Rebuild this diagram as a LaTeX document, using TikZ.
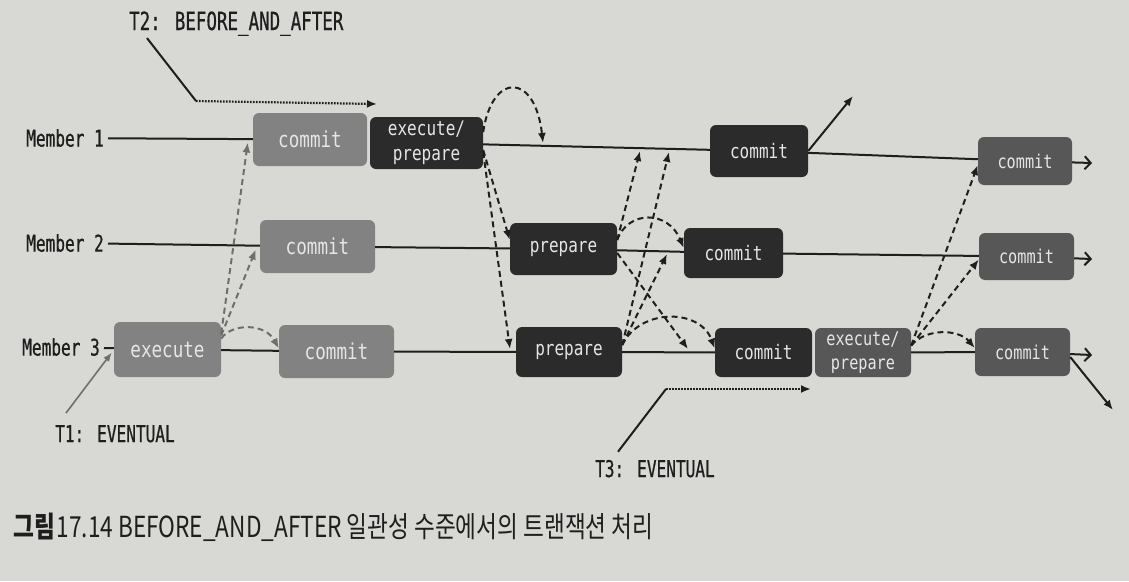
\documentclass[tikz,border=0pt]{standalone}
\usepackage{fontspec}
\usepackage{tikz}
\usetikzlibrary{positioning,arrows.meta}
\newfontfamily\lblfont[FakeStretch=0.8]{DejaVu Sans Mono}
\newfontfamily\tagfont[FakeStretch=0.7,FakeBold=0.6]{DejaVu Sans Mono}
\newfontfamily\capfont[FakeStretch=0.78]{Noto Sans CJK KR}
\definecolor{paper}{HTML}{D8D8D4}
\definecolor{boxlight}{HTML}{828282}
\definecolor{boxdark}{HTML}{2B2B2B}
\definecolor{boxmid}{HTML}{575757}
\definecolor{boxtext}{HTML}{E6E6E6}
\definecolor{ink}{HTML}{1E1E1E}
\definecolor{greyink}{HTML}{6E6E6E}

\begin{document}
\begin{tikzpicture}[x=1pt, y=-1pt,
    box/.style={rounded corners=6pt, inner sep=0pt, text=boxtext, align=center,
      font=\lblfont\fontsize{20}{25}\selectfont},
    lightbox/.style={box, fill=boxlight, minimum height=53pt,
      font=\lblfont\fontsize{22}{26}\selectfont},
    darkbox/.style={box, fill=boxdark, minimum height=50pt},
    midbox/.style={box, fill=boxmid, minimum height=48pt,
      font=\lblfont\fontsize{19}{24}\selectfont},
    lbl/.style={text=ink, inner sep=4pt, font=\tagfont\fontsize{23}{27}\selectfont},
    rowline/.style={draw=ink, line width=2pt},
    endarr/.style={rowline, -{Straight Barb[length=6pt,width=13pt,line width=2pt]}},
    outarr/.style={rowline, -{Latex[length=10pt,width=8pt]}},
    msg/.style={draw=ink, line width=2pt, dash pattern=on 6pt off 4pt,
      -{Latex[length=10pt,width=8pt]}},
    lmsg/.style={msg, draw=greyink},
    dots/.style={draw=ink, line width=2.2pt, dash pattern=on 1.6pt off 1.4pt,
      -{Latex[length=10pt,width=8pt]}},
  ]
%
    \useasboundingbox (0,0) rectangle (1129,581);
    \fill[paper] (0,0) rectangle (1129,581);
%
    % members
    \node[lbl, anchor=east] (m1) at (108,138) {Member 1};
    \node[lbl, anchor=east] (m2) at (108,243) {Member 2};
    \node[lbl, anchor=east] (m3) at (104,347) {Member 3};
%
    % member 1 boxes
    \node[lightbox, minimum width=114pt] (c1a) at (310,139.5) {commit};
    \node[darkbox, minimum width=113pt, minimum height=52pt] (ep1) at (426.5,143) {execute/\\prepare};
    \node[darkbox, minimum width=98pt, minimum height=52pt] (c1b) at (759,151) {commit};
    \node[midbox, minimum width=94pt] (c1c) at (1025,161) {commit};
    % member 2 boxes
    \node[lightbox, minimum width=115pt] (c2a) at (317.5,246.5) {commit};
    \node[darkbox, minimum width=107pt, minimum height=52pt] (p2) at (563.5,249) {prepare};
    \node[darkbox, minimum width=99pt] (c2b) at (733.5,253) {commit};
    \node[midbox, minimum width=95pt, minimum height=47pt] (c2c) at (1026.5,256.5) {commit};
    % member 3 boxes
    \node[lightbox, minimum width=107pt, minimum height=55pt] (ex3) at (167.5,349.5) {execute};
    \node[lightbox, minimum width=115pt] (c3a) at (336.5,351.5) {commit};
    \node[darkbox, minimum width=106pt] (p3) at (569,352) {prepare};
    \node[darkbox, minimum width=97pt, minimum height=49pt] (c3b) at (763.5,352.5) {commit};
    \node[midbox, minimum width=96pt, minimum height=49pt] (ep3) at (863,352.5) {execute/\\prepare};
    \node[midbox, minimum width=95pt] (c3c) at (1022.5,352) {commit};
%
    % free ends
    \coordinate (e1) at (1092,163);
    \coordinate (e2) at (1092,259);
    \coordinate (e3) at (1092,355);
    \coordinate (o1) at (853,96);
    \coordinate (o3) at (1113,410);
    \coordinate (r1a) at (543,143);
    \coordinate (r1b) at (640,151);
    \coordinate (r1c) at (669,152);
    \coordinate (r2a) at (667,254);
    \coordinate (r3a) at (688,349);
    \coordinate (r3b) at (510,349);
%
    % timelines
    \draw[rowline] (m1) -- (c1a);
    \draw[rowline] (ep1) -- (c1b) -- (c1c);
    \draw[endarr] (c1c) -- (e1);
    \draw[rowline] (m2) -- (c2a) -- (p2) -- (c2b) -- (c2c);
    \draw[endarr] (c2c) -- (e2);
    \draw[rowline] (m3) -- (ex3) -- (c3a) -- (p3) -- (c3b);
    \draw[rowline] (ep3) -- (c3c);
    \draw[endarr] (c3c) -- (e3);
    \draw[outarr] (c1b.east) -- (o1);
    \draw[outarr] ([yshift=-5pt]c3c.east) -- (o3);
%
    % T1 messages
    \draw[lmsg] ([yshift=16pt]ex3.east) -- ([xshift=-5pt,yshift=-3pt]c1a.west);
    \draw[lmsg] ([yshift=14pt]ex3.east) -- ([xshift=-4pt,yshift=-3pt]c2a.west);
    \draw[lmsg] ([yshift=11pt]ex3.east) .. controls (232,323) and (265,323) .. ([yshift=3pt]c3a.west);
%
    % T2 messages
    \draw[msg] ([yshift=11pt]ep1.east) .. controls (492,72) and (535,72) .. (r1a);
    \draw[msg] ([yshift=-7pt]ep1.east) -- ([yshift=9pt]p2.west);
    \draw[msg] ([yshift=-9pt]ep1.east) -- (r3b);
    \draw[msg] ([yshift=9pt]p2.east) -- (r1b);
    \draw[msg] ([yshift=9pt]p2.east) .. controls (628,210) and (668,210) .. ([yshift=5pt]c2b.west);
    \draw[msg] ([yshift=-4pt]p2.east) -- (r3a);
    \draw[msg] ([yshift=7pt]p3.east) -- (r1c);
    \draw[msg] ([yshift=7pt]p3.east) -- (r2a);
    \draw[msg] ([yshift=7pt]p3.east) .. controls (640,308) and (700,308) .. ([yshift=4pt]c3b.west);
%
    % T3 messages
    \draw[msg] ([yshift=7pt]ep3.east) -- ([yshift=-4pt]c1c.west);
    \draw[msg] ([yshift=7pt]ep3.east) -- ([yshift=-3pt]c2c.west);
    \draw[msg] ([yshift=7pt]ep3.east) .. controls (925,328.5) and (958,328.5) .. ([yshift=4pt]c3c.west);
%
    % transaction labels
    \node[lbl, anchor=base west, font=\tagfont\fontsize{25}{29}\selectfont] (t2) at (125,30) {T2: BEFORE\_AND\_AFTER};
    \node[lbl, anchor=base west] (t1) at (51,442) {T1: EVENTUAL};
    \node[lbl, anchor=base west] (t3) at (591,477) {T3: EVENTUAL};
    \coordinate (k2) at (196,101);
    \coordinate (k2e) at (377,104);
    \coordinate (k3) at (666,389);
    \coordinate (k3e) at (811,389);
    \draw[ink, line width=2pt] ([xshift=22pt,yshift=2pt]t2.south west) -- (k2);
    \draw[dots] (k2) -- (k2e);
    \draw[ink, line width=2pt] ([xshift=27pt,yshift=4pt]t3.north west) -- (k3);
    \draw[dots] (k3) -- (k3e);
    \draw[greyink, line width=1.6pt, -{Latex[length=9pt,width=7pt]}] ([xshift=15pt,yshift=8pt]t1.north west) -- ([xshift=-2pt,yshift=-3pt]ex3.west);
%
    % caption
    \node[anchor=base west, inner sep=0pt, text=ink, font=\capfont\fontsize{29}{33}\selectfont] (cap) at (13,537)
      {{\bfseries 그림}\hspace{2pt}17.14 BEFORE\_AND\_AFTER 일관성 수준에서의 트랜잭션 처리};
  \end{tikzpicture}
\end{document}
